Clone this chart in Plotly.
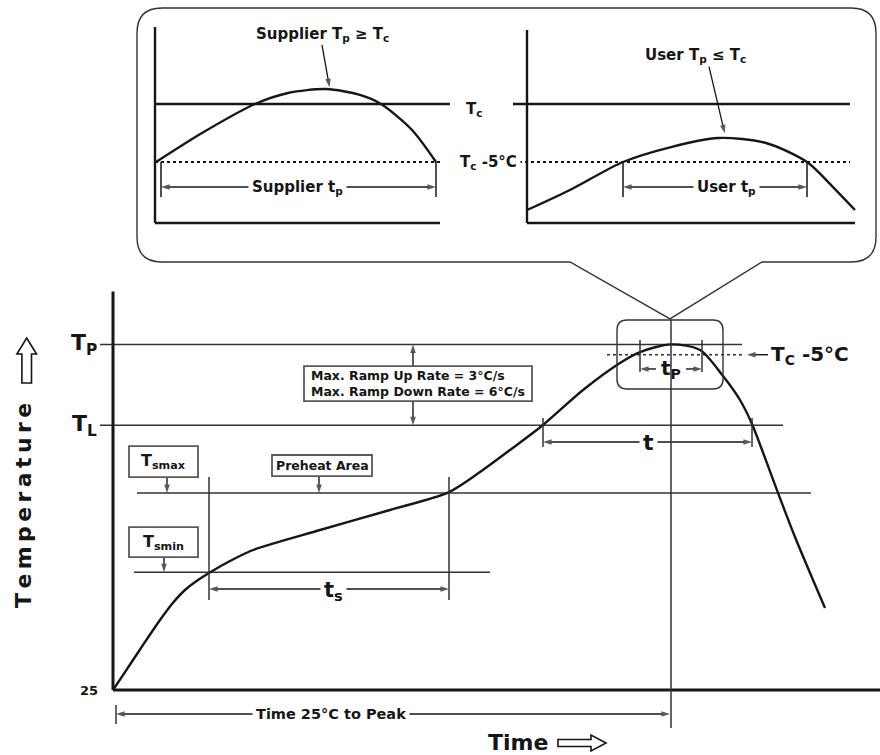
import plotly.graph_objects as go

FONT = "DejaVu Sans"
INK = "#161616"
GREY = "#333333"
BOX = "#5a5a5a"
W, H = 880, 755

# ---------------- main reflow profile (schematic time / temperature units) -------------
profile_time = [0, 6, 12, 18, 23.5, 29.5, 36, 42.5, 48, 58.5, 70, 103.5, 138.5, 168, 183.5,
                198.5, 215, 235, 253.5, 263.5, 279, 293.5, 305, 313.5, 319.5, 326, 332.5, 341,
                350, 356]
profile_temp = [25, 37.2, 49.5, 61.7, 72.6, 83.5, 93, 99.8, 104.6, 112.7, 120.2, 133.8, 147.4,
                159.6, 173.2, 188.2, 205.2, 229, 247.4, 254.8, 260, 256.2, 238.5, 222.2, 205.9,
                182.8, 159, 129, 99.8, 80.8]

# temperature levels
T_BASE = 25
T_SMIN = 105
T_SMAX = 159
T_L = 205
T_P = 260
T_C5 = 253
level_values = [T_P, T_L, T_SMAX, T_SMIN]
level_start = [-6.5, -6.5, 12, 10.5]
level_end = [314.5, 335, 349, 188.5]

# key times on the profile
t_smin_cross = 48
t_smax_cross = 168
t_l_up = 215
t_l_down = 319.5
t_peak = 279
tp_start, tp_end = 263.5, 294.5
t_axis_end = 383.5
T_axis_top = 296

# ---------------- inset (x: schematic time, y: degrees relative to Tc) ----------------
supplier_time = [0.5, 23.5, 50, 66.5, 85.5, 102.5, 113, 128.5, 140.5]
supplier_temp = [-5, -2.5, 0, 0.95, 1.29, 0.78, 0, -2.24, -5]
user_time = [186, 207.5, 234, 258, 281.5, 305.5, 326, 339, 350]
user_temp = [-9.14, -7.41, -5, -3.71, -2.93, -3.36, -5, -7.16, -9.14]
TC = 0
TC5_REL = -5
inset_floor = -10.26
left_origin, right_origin = 0, 186
left_end, right_end = 142.5, 350

fig = go.Figure()


def line(x, y, color=GREY, width=1.5, dash=None, xa="x", ya="y", shape="linear"):
    fig.add_trace(go.Scatter(x=x, y=y, mode="lines", xaxis=xa, yaxis=ya, hoverinfo="skip",
                             line=dict(color=color, width=width, dash=dash, shape=shape,
                                       smoothing=0.8 if shape == "spline" else None)))


def arrow(x, y, ax, ay, xa="x", ya="y", width=1.4, size=9):
    fig.add_trace(go.Scatter(x=[ax, x], y=[ay, y], mode="lines+markers", xaxis=xa, yaxis=ya,
                             hoverinfo="skip", line=dict(color=INK, width=width),
                             marker=dict(symbol="arrow", size=[0, size], angleref="previous",
                                         color=INK, line=dict(width=0))))


# level lines
for v, s, e in zip(level_values, level_start, level_end):
    line([s, e], [v, v])
line([247, 316], [T_C5, T_C5], color=GREY, width=1.6, dash="dot")
# axes of main chart
line([0, 0], [T_BASE, T_axis_top], color=INK, width=3)
line([0, t_axis_end], [T_BASE, T_BASE], color=INK, width=3)
# profile
line(profile_time, profile_temp, color=INK, width=2.4, shape="spline")

# inset
line([left_origin, left_origin], [inset_floor, 6.64], INK, 2.4, xa="x2", ya="y2")
line([left_origin, left_end], [inset_floor, inset_floor], INK, 2.4, xa="x2", ya="y2")
line([right_origin, right_origin], [inset_floor, 6.38], INK, 2.4, xa="x2", ya="y2")
line([right_origin, right_end], [inset_floor, inset_floor], INK, 2.4, xa="x2", ya="y2")
line([left_origin, 147.5], [TC, TC], INK, 2.6, xa="x2", ya="y2")
line([179, 347.5], [TC, TC], INK, 2.6, xa="x2", ya="y2")
line([left_origin, 143], [TC5_REL, TC5_REL], INK, 2, dash="dot", xa="x2", ya="y2")
line([179, 347.5], [TC5_REL, TC5_REL], INK, 2, dash="dot", xa="x2", ya="y2")
line(supplier_time, supplier_temp, INK, 2.4, xa="x2", ya="y2", shape="spline")
line(user_time, user_temp, INK, 2.4, xa="x2", ya="y2", shape="spline")

# ---------------- arrows ----------------
arrow(27, T_SMAX, 27, 169.8)
arrow(25.5, T_SMIN, 25.5, 115.4)
arrow(103, T_SMAX, 103, 170.5)
arrow(150, T_P, 150, 245.3)
arrow(150, T_L, 150, 221.5)
arrow(t_smin_cross, 93.7, 110, 93.7)
arrow(t_smax_cross, 93.7, 110, 93.7)
arrow(t_l_up, 193.6, 267.5, 193.6)
arrow(t_l_down, 193.6, 267.5, 193.6)
arrow(tp_start, 243.3, 271.5, 243.3)
arrow(tp_end, 243.3, 286.5, 243.3)
arrow(317, T_C5, 327.5, T_C5)
arrow(1.5, 8.7, 109, 8.7)
arrow(t_peak - 0.5, 8.7, 109, 8.7)
arrow(87.25, 1.44, 83.5, 5.1, xa="x2", ya="y2", width=1.3)
arrow(284.85, -2.53, 277, 3.22, xa="x2", ya="y2", width=1.3)
arrow(3, -7.16, 71, -7.16, xa="x2", ya="y2")
arrow(140.5, -7.16, 71, -7.16, xa="x2", ya="y2")
arrow(234, -7.16, 285.5, -7.16, xa="x2", ya="y2")
arrow(326, -7.16, 285.5, -7.16, xa="x2", ya="y2")

shapes = []


def seg(x0, y0, x1, y1, xref="x", yref="y", color=GREY, width=1.5):
    shapes.append(dict(type="line", x0=x0, y0=y0, x1=x1, y1=y1, xref=xref, yref=yref,
                       line=dict(color=color, width=width)))


def rounded(x0, x1, y0, y1, rx, ry, notch=None):
    p = f"M {x0+rx},{y1} L {x1-rx},{y1} Q {x1},{y1} {x1},{y1-ry} L {x1},{y0+ry} Q {x1},{y0} {x1-rx},{y0} "
    if notch:
        nr, tx, ty, nl = notch
        p += f"L {nr},{y0} L {tx},{ty} L {nl},{y0} "
    p += f"L {x0+rx},{y0} Q {x0},{y0} {x0},{y0+ry} L {x0},{y1-ry} Q {x0},{y1} {x0+rx},{y1} Z"
    return p


# callout around inset
shapes.append(dict(type="path", xref="x2", yref="y2",
                   path=rounded(-9, 360.5, -13.62, 8.28, 12.5, 2.16, notch=(303.5, 257.5, -18.53, 207.5)),
                   line=dict(color=GREY, width=1.4)))
# small box around peak
shapes.append(dict(type="path", xref="x", yref="y",
                   path=rounded(252, 305, 229.7, 276.6, 5, 6.8),
                   line=dict(color=GREY, width=1.4)))
# label boxes
for (x0, x1, y0, y1) in [(8, 42.5, 169.8, 190.9), (8, 42.5, 115.4, 135.8),
                         (79.5, 129.5, 170.5, 184.8), (95.5, 209.5, 221.5, 245.3)]:
    shapes.append(dict(type="rect", xref="x", yref="y", x0=x0, x1=x1, y0=y0, y1=y1,
                       fillcolor="white", line=dict(color=BOX, width=1.8)))

# vertical markers
seg(t_smin_cross, 169.8, t_smin_cross, 86.2)
seg(t_smax_cross, 169.8, t_smax_cross, 86.2)
seg(t_l_up, 210, t_l_up, 190.2)
seg(t_l_down, 210, t_l_down, 190.2)
seg(tp_start, 263, tp_start, 241.2)
seg(tp_end, 263, tp_end, 241.2)
seg(t_peak, 276.6, t_peak, -0.8)
seg(1.5, 14.8, 1.5, 1.9)
for xv in [3, 140.5, 234, 326]:
    seg(xv, TC5_REL, xv, -8.02, xref="x2", yref="y2", color=INK, width=1.5)


# hollow arrows (paper)
def P(px, py):
    return f"{px / W},{1 - py / H}"


up = ("M " + P(26.7, 338) + " L " + P(36.5, 354) + " L " + P(31.5, 354) + " L " + P(31.5, 383)
      + " L " + P(21.9, 383) + " L " + P(21.9, 354) + " L " + P(16.9, 354) + " Z")
right = ("M " + P(606, 743) + " L " + P(591, 735) + " L " + P(591, 739.5) + " L " + P(558, 739.5)
         + " L " + P(558, 746.5) + " L " + P(591, 746.5) + " L " + P(591, 751) + " Z")
for pth in (up, right):
    shapes.append(dict(type="path", xref="paper", yref="paper", path=pth,
                       line=dict(color=INK, width=1.6), fillcolor="white"))

ann = []


def label(x, y, text, size, xref="x", yref="y", xanchor="center", bg=None, align="center",
          angle=0):
    d = dict(x=x, y=y, xref=xref, yref=yref, text=text, showarrow=False, xanchor=xanchor,
             yanchor="middle", align=align, textangle=angle,
             font=dict(family=FONT, size=size, color=INK))
    if bg:
        d.update(bgcolor=bg, borderpad=3)
    ann.append(d)


# main labels
label(-7, T_P, "<b>T<sub>P</sub></b>", 22, xanchor="right")
label(-7, T_L, "<b>T<sub>L</sub></b>", 22, xanchor="right")
label(-6.5, T_BASE, "<b>25</b>", 13, xanchor="right")
label(25.25, 180.4, "<b>T<sub>smax</sub></b>", 16)
label(25.25, 125.6, "<b>T<sub>smin</sub></b>", 16)
label(104.5, 177.7, "<b>Preheat Area</b>", 12.5)
label(152.5, 233.4, "<b>Max. Ramp Up Rate = 3°C/s<br>Max. Ramp Down Rate = 6°C/s</b>", 12.5,
      align="left")
label(110, 92.5, "<b>t<sub>s</sub></b>", 21, bg="white")
label(267.5, 193.6, "<b>t</b>", 22, bg="white")
label(t_peak, 243.5, "<b>t<sub>P</sub></b>", 20)
label(328, T_C5, "<b>T<sub>C</sub> -5°C</b>", 20, xanchor="left")
label(109, 8.7, "<b>Time 25°C to Peak</b>", 14.5, bg="white")

# inset labels
label(83.5, 5.95, "<b>Supplier T<sub>p</sub> ≥ T<sub>c</sub></b>", 15, xref="x2", yref="y2")
label(270, 4.22, "<b>User T<sub>p</sub> ≤ T<sub>c</sub></b>", 15, xref="x2", yref="y2")
label(159.5, -0.5, "<b>T<sub>c</sub></b>", 15, xref="x2", yref="y2")
label(166.5, -5, "<b>T<sub>c</sub> -5°C</b>", 15, xref="x2", yref="y2", bg="white")
label(71, -7.16, "<b>Supplier t<sub>p</sub></b>", 15, xref="x2", yref="y2", bg="white")
label(285.5, -7.16, "<b>User t<sub>p</sub></b>", 15, xref="x2", yref="y2", bg="white")

# axis titles (paper)
label(23 / W, 1 - 506 / H, "<b>T\u2009e\u2009m\u2009p\u2009e\u2009r\u2009a\u2009t\u2009u\u2009r\u2009e</b>", 22,
      xref="paper", yref="paper", angle=-90)
label(518 / W, 1 - 742 / H, "<b>Time</b>", 22, xref="paper", yref="paper")

fig.update_layout(
    width=W, height=H, margin=dict(l=0, r=0, t=0, b=0),
    paper_bgcolor="white", plot_bgcolor="white", showlegend=False,
    xaxis=dict(range=[-56.5, 383.5], visible=False, fixedrange=True, domain=[0, 1]),
    yaxis=dict(range=[-19.2, 494.2], visible=False, fixedrange=True, domain=[0, 1]),
    xaxis2=dict(range=[-77.5, 362.5], visible=False, fixedrange=True, overlaying="x", anchor="y2"),
    yaxis2=dict(range=[-56.12, 8.966], visible=False, fixedrange=True, overlaying="y", anchor="x2"),
    shapes=shapes, annotations=ann,
)

fig.write_html("out.html", config={"displayModeBar": False},
               post_script="document.body.style.margin='0';document.body.style.overflow='hidden';")
